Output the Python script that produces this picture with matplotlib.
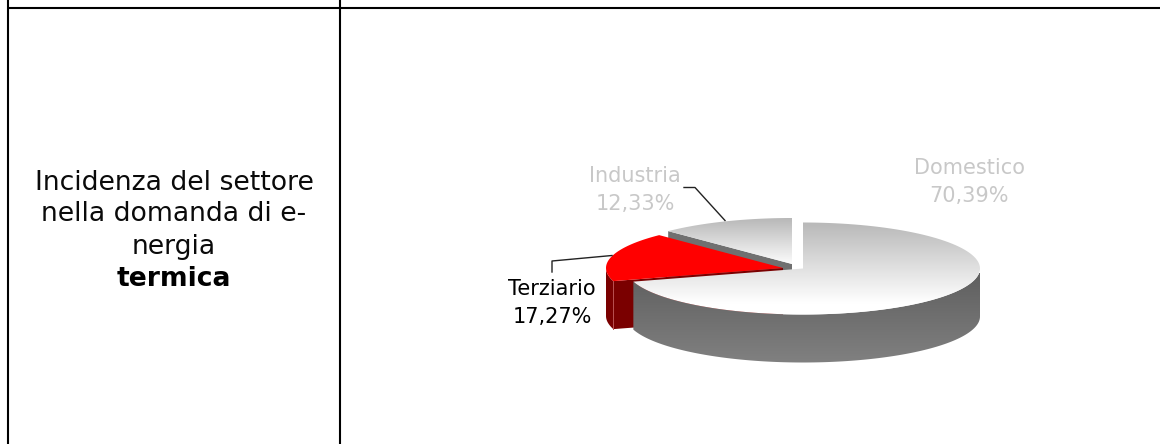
import numpy as np
import matplotlib
matplotlib.use("Agg")
import matplotlib.pyplot as plt
from matplotlib.patches import Polygon
from matplotlib.colors import to_rgb

categories = ["Domestico", "Terziario", "Industria"]
shares = [70.39, 17.27, 12.33]
label_colors = ["#c8c8c8", "#000000", "#c8c8c8"]
row_title = ["Incidenza del settore", "nella domanda di e-", "nergia"]
row_title_bold = "termica"

W, H = 1160, 444
fig = plt.figure(figsize=(W / 100, H / 100), dpi=100)
ax = fig.add_axes([0, 0, 1, 1])
ax.set_xlim(0, W)
ax.set_ylim(H, 0)
ax.axis("off")

# table rules
ax.plot([7.2, W], [7.7, 7.7], color="k", lw=1.5, solid_capstyle="butt")
ax.plot([8.2, 8.2], [0, H], color="k", lw=1.5, solid_capstyle="butt")
ax.plot([340.2, 340.2], [0, H], color="k", lw=1.5, solid_capstyle="butt")

# left cell text
for y, t in zip([183, 214, 247], row_title):
    ax.text(174, y, t, ha="center", va="center", fontsize=19.2,
            family="DejaVu Sans", color="#0a0a0a")
ax.text(174, 279, row_title_bold, ha="center", va="center", fontsize=19.2,
        family="DejaVu Sans", fontweight="bold", color="k")

# pie geometry
RX, RY, DEPTH = 177, 46, 48
centers = {"Domestico": (803, 268.5), "Terziario": (783, 268), "Industria": (792, 264)}
fracs = np.array(shares) / np.sum(shares)
edges = np.concatenate([[0], np.cumsum(fracs) * 2 * np.pi])


def rim(cx, cy, a0, a1, n=120):
    t = np.linspace(a0, a1, n)
    return cx + RX * np.sin(t), cy - RY * np.cos(t)


def grad_fill(poly, top, bottom, y0, y1, ymax, x0=590, x1=1000):
    """Vertical gradient clipped to a polygon; holds the end colour below y1."""
    c0, c1 = np.array(to_rgb(top)), np.array(to_rgb(bottom))
    ys = np.linspace(y0, ymax, 300)
    f = np.clip((ys - y0) / (y1 - y0), 0, 1)[:, None, None]
    img = c0[None, None, :] * (1 - f) + c1[None, None, :] * f
    im = ax.imshow(img, extent=[x0, x1, ymax, y0], aspect="auto", zorder=poly.get_zorder(),
                   interpolation="bilinear")
    ax.add_patch(poly)
    poly.set_visible(False)
    im.set_clip_path(poly)
    ax.set_xlim(0, W)
    ax.set_ylim(H, 0)


def wall_poly(cx, cy, a0, a1, z):
    """Outer wall: only the part of the rim that faces the viewer."""
    lo, hi = max(a0, np.pi / 2), min(a1, 3 * np.pi / 2)
    x, y = rim(cx, cy, lo, hi)
    return Polygon(np.c_[np.r_[x, x[::-1]], np.r_[y, y[::-1] + DEPTH]], closed=True, zorder=z)


def wedge(name, a0, a1, z, top_c, side_c, top_span):
    cx, cy = centers[name]
    x, y = rim(cx, cy, a0, a1)
    if name == "Terziario":
        wall = wall_poly(cx, cy, a0, a1, z)
        wall.set(facecolor=side_c[0], edgecolor="none")
        ax.add_patch(wall)
        cut = Polygon([(x[0], y[0]), (cx, cy), (cx, cy + DEPTH), (x[0], y[0] + DEPTH)],
                      closed=True, facecolor=side_c[0], edgecolor="none", zorder=z + 0.05)
        ax.add_patch(cut)
        ax.plot([x[0], x[0]], [y[0], y[0] + DEPTH], color="#b85050", lw=0.7, zorder=z + 0.1)
    elif name == "Industria":
        cut = Polygon([(x[0], y[0]), (cx, cy), (cx, cy + DEPTH), (x[0], y[0] + DEPTH)],
                      closed=True, facecolor=side_c[0], edgecolor="none", zorder=z + 0.05)
        ax.add_patch(cut)
    else:
        grad_fill(wall_poly(cx, cy, a0, a1, z), side_c[0], side_c[1], cy + 5, cy + RY + DEPTH,
                  cy + RY + DEPTH + 2)
    poly = Polygon(np.c_[np.r_[cx, x], np.r_[cy, y]], closed=True, zorder=z + 0.2)
    if isinstance(top_c, str):
        poly.set(facecolor=top_c, edgecolor="none")
        ax.add_patch(poly)
    else:
        grad_fill(poly, top_c[0], top_c[1], cy - RY, cy + top_span, cy + RY + 2)


wedge("Industria", edges[2], edges[3], 2, ("#b8b8b8", "#ffffff"), ("#707070",), 2)
wedge("Terziario", edges[1], edges[2], 3, "#ff0000", ("#7a0000",), 0)
wedge("Domestico", edges[0], edges[1], 4, ("#b8b8b8", "#ffffff"), ("#5f5f5f", "#808080"), 35)

# leader lines
ax.plot([552, 552, 612], [272, 261, 255.5], color="#222222", lw=1, zorder=6)
ax.plot([684, 695, 725], [187.5, 187.5, 220.5], color="#222222", lw=1, zorder=6)

# labels
fmt = [f"{s:.2f}".replace(".", ",") + "%" for s in shares]
pos = [(969, 182), (552, 303), (635, 190)]
for c, v, col, (x, y) in zip(categories, fmt, label_colors, pos):
    ax.text(x, y, f"{c}\n{v}", ha="center", va="center", fontsize=15,
            family="DejaVu Sans", color=col, linespacing=1.45, zorder=7)

fig.savefig("out.png", dpi=100, facecolor="white")
